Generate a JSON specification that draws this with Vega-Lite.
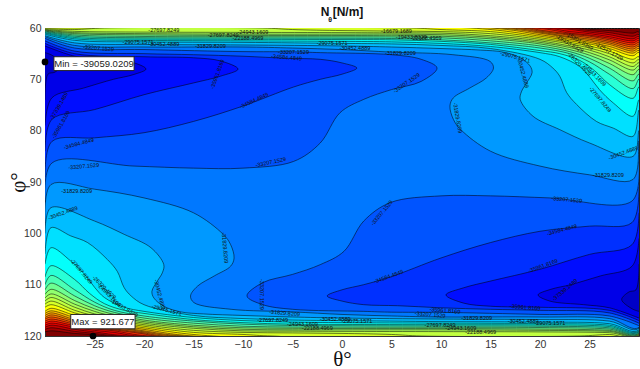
{"$schema":"https://vega.github.io/schema/vega-lite/v6.json","width":594,"height":308,"autosize":{"type":"none"},"padding":{"left":45,"top":28,"right":1,"bottom":33},"background":"white",
"title":{"text":"N     [N/m]","anchor":"middle","fontSize":12,"fontWeight":"bold","font":"Liberation Sans","color":"#111","offset":-3},
"view":{"fill":"#800000","stroke":"#222"},
"config":{"axis":{"grid":true,"gridColor":"#000","gridDash":[1,2],"gridOpacity":1,"gridWidth":0.9,"ticks":false,"domainColor":"#333","labelFont":"Liberation Sans","labelFontSize":10.5,"labelColor":"#333","titleFont":"Liberation Serif","titleFontWeight":"normal","titleFontSize":21,"titleColor":"#111","titleBaseline":"alphabetic","zindex":1}},
"datasets":{"poly":[
{"g":"27","t":-30,"p":60},{"g":"27","t":23.5,"p":60},{"g":"27","t":25,"p":60.25},{"g":"27","t":27,"p":60.5},{"g":"27","t":29.4,"p":61},{"g":"27","t":30,"p":60.8},{"g":"27","t":30,"p":120},{"g":"27","t":-23.5,"p":120},{"g":"27","t":-25,"p":119.75},{"g":"27","t":-27,"p":119.5},{"g":"27","t":-29.4,"p":119},{"g":"27","t":-30,"p":119.2},
{"g":"26","t":-30,"p":60},{"g":"26","t":22.5,"p":60},{"g":"26","t":25,"p":60.5},{"g":"26","t":27,"p":60.9},{"g":"26","t":29.4,"p":61.6},{"g":"26","t":30,"p":61.3},{"g":"26","t":30,"p":120},{"g":"26","t":-22.5,"p":120},{"g":"26","t":-25,"p":119.5},{"g":"26","t":-27,"p":119.1},{"g":"26","t":-29.4,"p":118.4},{"g":"26","t":-30,"p":118.7},
{"g":"25","t":-30,"p":60},{"g":"25","t":21.5,"p":60},{"g":"25","t":25,"p":60.8},{"g":"25","t":27,"p":61.3},{"g":"25","t":29.4,"p":62.1},{"g":"25","t":30,"p":61.7},{"g":"25","t":30,"p":120},{"g":"25","t":-21.5,"p":120},{"g":"25","t":-25,"p":119.2},{"g":"25","t":-27,"p":118.7},{"g":"25","t":-29.4,"p":117.9},{"g":"25","t":-30,"p":118.3},
{"g":"24","t":-30,"p":60},{"g":"24","t":20.5,"p":60},{"g":"24","t":23,"p":60.7},{"g":"24","t":25,"p":61.1},{"g":"24","t":27,"p":61.7},{"g":"24","t":29.4,"p":62.5},{"g":"24","t":30,"p":62.1},{"g":"24","t":30,"p":120},{"g":"24","t":-20.5,"p":120},{"g":"24","t":-23,"p":119.3},{"g":"24","t":-25,"p":118.9},{"g":"24","t":-27,"p":118.3},{"g":"24","t":-29.4,"p":117.5},{"g":"24","t":-30,"p":117.9},
{"g":"23","t":-30,"p":60},{"g":"23","t":19.5,"p":60},{"g":"23","t":23,"p":61},{"g":"23","t":25,"p":61.4},{"g":"23","t":27,"p":62},{"g":"23","t":29.4,"p":62.9},{"g":"23","t":30,"p":62.5},{"g":"23","t":30,"p":120},{"g":"23","t":-19.5,"p":120},{"g":"23","t":-23,"p":119},{"g":"23","t":-25,"p":118.6},{"g":"23","t":-27,"p":118},{"g":"23","t":-29.4,"p":117.1},{"g":"23","t":-30,"p":117.5},
{"g":"22","t":-30,"p":60},{"g":"22","t":18.7,"p":60},{"g":"22","t":20,"p":60.4},{"g":"22","t":23,"p":61.2},{"g":"22","t":25,"p":61.6},{"g":"22","t":27,"p":62.3},{"g":"22","t":29.4,"p":63.3},{"g":"22","t":30,"p":62.9},{"g":"22","t":30,"p":120},{"g":"22","t":-18.7,"p":120},{"g":"22","t":-20,"p":119.6},{"g":"22","t":-23,"p":118.8},{"g":"22","t":-25,"p":118.4},{"g":"22","t":-27,"p":117.7},{"g":"22","t":-29.4,"p":116.7},{"g":"22","t":-30,"p":117.1},
{"g":"21","t":-30,"p":60},{"g":"21","t":18,"p":60},{"g":"21","t":20,"p":60.6},{"g":"21","t":23,"p":61.4},{"g":"21","t":25,"p":61.9},{"g":"21","t":27,"p":62.6},{"g":"21","t":29.4,"p":63.7},{"g":"21","t":30,"p":63.3},{"g":"21","t":30,"p":120},{"g":"21","t":-18,"p":120},{"g":"21","t":-20,"p":119.4},{"g":"21","t":-23,"p":118.6},{"g":"21","t":-25,"p":118.1},{"g":"21","t":-27,"p":117.4},{"g":"21","t":-29.4,"p":116.3},{"g":"21","t":-30,"p":116.7},
{"g":"20","t":-30,"p":60},{"g":"20","t":17,"p":60},{"g":"20","t":20,"p":60.8},{"g":"20","t":23,"p":61.7},{"g":"20","t":25,"p":62.2},{"g":"20","t":27,"p":62.9},{"g":"20","t":29.4,"p":64.1},{"g":"20","t":30,"p":63.6},{"g":"20","t":30,"p":120},{"g":"20","t":-17,"p":120},{"g":"20","t":-20,"p":119.2},{"g":"20","t":-23,"p":118.3},{"g":"20","t":-25,"p":117.8},{"g":"20","t":-27,"p":117.1},{"g":"20","t":-29.4,"p":115.9},{"g":"20","t":-30,"p":116.4},
{"g":"19","t":-30,"p":60},{"g":"19","t":16,"p":60},{"g":"19","t":20,"p":61},{"g":"19","t":23,"p":61.9},{"g":"19","t":25,"p":62.5},{"g":"19","t":27,"p":63.2},{"g":"19","t":29.4,"p":64.5},{"g":"19","t":30,"p":64},{"g":"19","t":30,"p":120},{"g":"19","t":-16,"p":120},{"g":"19","t":-20,"p":119},{"g":"19","t":-23,"p":118.1},{"g":"19","t":-25,"p":117.5},{"g":"19","t":-27,"p":116.8},{"g":"19","t":-29.4,"p":115.5},{"g":"19","t":-30,"p":116},
{"g":"18","t":-30,"p":60},{"g":"18","t":15,"p":60},{"g":"18","t":20,"p":61.3},{"g":"18","t":23,"p":62.2},{"g":"18","t":25,"p":62.8},{"g":"18","t":27,"p":63.6},{"g":"18","t":29.4,"p":64.9},{"g":"18","t":30,"p":64.4},{"g":"18","t":30,"p":120},{"g":"18","t":-15,"p":120},{"g":"18","t":-20,"p":118.7},{"g":"18","t":-23,"p":117.8},{"g":"18","t":-25,"p":117.2},{"g":"18","t":-27,"p":116.4},{"g":"18","t":-29.4,"p":115.1},{"g":"18","t":-30,"p":115.6},
{"g":"17","t":-30,"p":60},{"g":"17","t":13,"p":60},{"g":"17","t":20,"p":61.6},{"g":"17","t":23,"p":62.5},{"g":"17","t":25,"p":63.1},{"g":"17","t":27,"p":64},{"g":"17","t":29.4,"p":65.4},{"g":"17","t":30,"p":64.8},{"g":"17","t":30,"p":120},{"g":"17","t":-13,"p":120},{"g":"17","t":-20,"p":118.4},{"g":"17","t":-23,"p":117.5},{"g":"17","t":-25,"p":116.9},{"g":"17","t":-27,"p":116},{"g":"17","t":-29.4,"p":114.6},{"g":"17","t":-30,"p":115.2},
{"g":"16","t":-30,"p":60},{"g":"16","t":7,"p":60},{"g":"16","t":10,"p":60.3},{"g":"16","t":15,"p":60.7},{"g":"16","t":20,"p":61.9},{"g":"16","t":23,"p":62.8},{"g":"16","t":25,"p":63.5},{"g":"16","t":27,"p":64.5},{"g":"16","t":29.4,"p":66.1},{"g":"16","t":30,"p":65.6},{"g":"16","t":30,"p":120},{"g":"16","t":-7,"p":120},{"g":"16","t":-10,"p":119.7},{"g":"16","t":-15,"p":119.3},{"g":"16","t":-20,"p":118.1},{"g":"16","t":-23,"p":117.2},{"g":"16","t":-25,"p":116.5},{"g":"16","t":-27,"p":115.5},{"g":"16","t":-29.4,"p":113.9},{"g":"16","t":-30,"p":114.4},
{"g":"15","t":-30,"p":60.15},{"g":"15","t":-27,"p":60.3},{"g":"15","t":-24,"p":60},{"g":"15","t":-8,"p":60},{"g":"15","t":-5,"p":60.3},{"g":"15","t":0,"p":60.5},{"g":"15","t":5,"p":60.6},{"g":"15","t":10,"p":60.7},{"g":"15","t":15,"p":61.1},{"g":"15","t":20,"p":62.2},{"g":"15","t":23,"p":63.1},{"g":"15","t":25,"p":63.9},{"g":"15","t":27,"p":65},{"g":"15","t":29.4,"p":66.8},{"g":"15","t":30,"p":66.2},{"g":"15","t":30,"p":119.85},{"g":"15","t":27,"p":119.7},{"g":"15","t":24,"p":120},{"g":"15","t":8,"p":120},{"g":"15","t":5,"p":119.7},{"g":"15","t":0,"p":119.5},{"g":"15","t":-5,"p":119.4},{"g":"15","t":-10,"p":119.3},{"g":"15","t":-15,"p":118.9},{"g":"15","t":-20,"p":117.8},{"g":"15","t":-23,"p":116.9},{"g":"15","t":-25,"p":116.1},{"g":"15","t":-27,"p":115},{"g":"15","t":-29.4,"p":113.2},{"g":"15","t":-30,"p":113.8},
{"g":"14","t":-30,"p":60.3},{"g":"14","t":-27,"p":60.65},{"g":"14","t":-20,"p":60.8},{"g":"14","t":-10,"p":60.85},{"g":"14","t":0,"p":60.9},{"g":"14","t":5,"p":60.95},{"g":"14","t":10,"p":61},{"g":"14","t":15,"p":61.5},{"g":"14","t":20,"p":62.5},{"g":"14","t":23,"p":63.5},{"g":"14","t":25,"p":64.3},{"g":"14","t":27,"p":65.6},{"g":"14","t":29.4,"p":67.5},{"g":"14","t":30,"p":66.8},{"g":"14","t":30,"p":119.7},{"g":"14","t":27,"p":119.35},{"g":"14","t":20,"p":119.2},{"g":"14","t":10,"p":119.15},{"g":"14","t":0,"p":119.1},{"g":"14","t":-5,"p":119.05},{"g":"14","t":-10,"p":119},{"g":"14","t":-15,"p":118.5},{"g":"14","t":-20,"p":117.5},{"g":"14","t":-23,"p":116.5},{"g":"14","t":-25,"p":115.7},{"g":"14","t":-27,"p":114.4},{"g":"14","t":-29.4,"p":112.5},{"g":"14","t":-30,"p":113.2},
{"g":"13","t":-30,"p":60.4},{"g":"13","t":-27,"p":60.9},{"g":"13","t":-20,"p":61.1},{"g":"13","t":-10,"p":61.2},{"g":"13","t":0,"p":61.2},{"g":"13","t":5,"p":61.2},{"g":"13","t":10,"p":61.3},{"g":"13","t":15,"p":61.8},{"g":"13","t":20,"p":62.8},{"g":"13","t":23,"p":63.8},{"g":"13","t":25,"p":64.8},{"g":"13","t":27,"p":66.2},{"g":"13","t":29.4,"p":68.2},{"g":"13","t":30,"p":67.4},{"g":"13","t":30,"p":119.6},{"g":"13","t":27,"p":119.1},{"g":"13","t":20,"p":118.9},{"g":"13","t":10,"p":118.8},{"g":"13","t":0,"p":118.8},{"g":"13","t":-5,"p":118.8},{"g":"13","t":-10,"p":118.7},{"g":"13","t":-15,"p":118.2},{"g":"13","t":-20,"p":117.2},{"g":"13","t":-23,"p":116.2},{"g":"13","t":-25,"p":115.2},{"g":"13","t":-27,"p":113.8},{"g":"13","t":-29.4,"p":111.8},{"g":"13","t":-30,"p":112.6},
{"g":"12","t":-30,"p":60.5},{"g":"12","t":-27,"p":61.1},{"g":"12","t":-20,"p":61.35},{"g":"12","t":-10,"p":61.45},{"g":"12","t":0,"p":61.46},{"g":"12","t":5,"p":61.5},{"g":"12","t":10,"p":61.6},{"g":"12","t":15,"p":62.1},{"g":"12","t":20,"p":63.1},{"g":"12","t":23,"p":64.2},{"g":"12","t":25,"p":65.3},{"g":"12","t":27,"p":66.9},{"g":"12","t":29.4,"p":69.1},{"g":"12","t":30,"p":68.1},{"g":"12","t":30,"p":119.5},{"g":"12","t":27,"p":118.9},{"g":"12","t":20,"p":118.65},{"g":"12","t":10,"p":118.55},{"g":"12","t":0,"p":118.54},{"g":"12","t":-5,"p":118.5},{"g":"12","t":-10,"p":118.4},{"g":"12","t":-15,"p":117.9},{"g":"12","t":-20,"p":116.9},{"g":"12","t":-23,"p":115.8},{"g":"12","t":-25,"p":114.7},{"g":"12","t":-27,"p":113.1},{"g":"12","t":-29.4,"p":110.9},{"g":"12","t":-30,"p":111.9},
{"g":"11","t":-30,"p":60.6},{"g":"11","t":-27,"p":61.35},{"g":"11","t":-20,"p":61.65},{"g":"11","t":-10,"p":61.7},{"g":"11","t":0,"p":61.72},{"g":"11","t":5,"p":61.75},{"g":"11","t":10,"p":61.9},{"g":"11","t":15,"p":62.5},{"g":"11","t":20,"p":63.5},{"g":"11","t":23,"p":64.6},{"g":"11","t":25,"p":65.9},{"g":"11","t":27,"p":67.8},{"g":"11","t":29.4,"p":70.3},{"g":"11","t":30,"p":69},{"g":"11","t":30,"p":119.4},{"g":"11","t":27,"p":118.65},{"g":"11","t":20,"p":118.35},{"g":"11","t":10,"p":118.3},{"g":"11","t":0,"p":118.28},{"g":"11","t":-5,"p":118.25},{"g":"11","t":-10,"p":118.1},{"g":"11","t":-15,"p":117.5},{"g":"11","t":-20,"p":116.5},{"g":"11","t":-23,"p":115.4},{"g":"11","t":-25,"p":114.1},{"g":"11","t":-27,"p":112.2},{"g":"11","t":-29.4,"p":109.7},{"g":"11","t":-30,"p":111},
{"g":"10","t":-30,"p":60.7},{"g":"10","t":-27,"p":61.6},{"g":"10","t":-20,"p":61.9},{"g":"10","t":-10,"p":61.95},{"g":"10","t":0,"p":62},{"g":"10","t":5,"p":62.05},{"g":"10","t":10,"p":62.3},{"g":"10","t":15,"p":62.9},{"g":"10","t":20,"p":63.9},{"g":"10","t":23,"p":65},{"g":"10","t":25,"p":66.6},{"g":"10","t":27,"p":69},{"g":"10","t":29.4,"p":71.8},{"g":"10","t":30,"p":70},{"g":"10","t":30,"p":119.3},{"g":"10","t":27,"p":118.4},{"g":"10","t":20,"p":118.1},{"g":"10","t":10,"p":118.05},{"g":"10","t":0,"p":118},{"g":"10","t":-5,"p":117.95},{"g":"10","t":-10,"p":117.7},{"g":"10","t":-15,"p":117.1},{"g":"10","t":-20,"p":116.1},{"g":"10","t":-23,"p":115},{"g":"10","t":-25,"p":113.4},{"g":"10","t":-27,"p":111},{"g":"10","t":-29.4,"p":108.2},{"g":"10","t":-30,"p":110},
{"g":"9","t":-30,"p":60.85},{"g":"9","t":-27,"p":61.85},{"g":"9","t":-20,"p":62.15},{"g":"9","t":-10,"p":62.2},{"g":"9","t":0,"p":62.25},{"g":"9","t":5,"p":62.3},{"g":"9","t":10,"p":62.6},{"g":"9","t":15,"p":63.2},{"g":"9","t":20,"p":64.4},{"g":"9","t":22,"p":65},{"g":"9","t":24,"p":66.3},{"g":"9","t":25.5,"p":68.3},{"g":"9","t":27,"p":71},{"g":"9","t":29.4,"p":73.7},{"g":"9","t":30,"p":71.5},{"g":"9","t":30,"p":119.15},{"g":"9","t":27,"p":118.15},{"g":"9","t":20,"p":117.85},{"g":"9","t":10,"p":117.8},{"g":"9","t":0,"p":117.75},{"g":"9","t":-5,"p":117.7},{"g":"9","t":-10,"p":117.4},{"g":"9","t":-15,"p":116.8},{"g":"9","t":-20,"p":115.6},{"g":"9","t":-22,"p":115},{"g":"9","t":-24,"p":113.7},{"g":"9","t":-25.5,"p":111.7},{"g":"9","t":-27,"p":109},{"g":"9","t":-29.4,"p":106.3},{"g":"9","t":-30,"p":108.5},
{"g":"8","t":-30,"p":61},{"g":"8","t":-27,"p":62.1},{"g":"8","t":-20,"p":62.4},{"g":"8","t":-10,"p":62.5},{"g":"8","t":0,"p":62.6},{"g":"8","t":5,"p":62.7},{"g":"8","t":10,"p":63},{"g":"8","t":15,"p":63.6},{"g":"8","t":20,"p":64.8},{"g":"8","t":22,"p":65.6},{"g":"8","t":24,"p":67.5},{"g":"8","t":25,"p":69.5},{"g":"8","t":26,"p":72},{"g":"8","t":27.4,"p":74.6},{"g":"8","t":29.4,"p":77.2},{"g":"8","t":30,"p":74},{"g":"8","t":30,"p":119},{"g":"8","t":27,"p":117.9},{"g":"8","t":20,"p":117.6},{"g":"8","t":10,"p":117.5},{"g":"8","t":0,"p":117.4},{"g":"8","t":-5,"p":117.3},{"g":"8","t":-10,"p":117},{"g":"8","t":-15,"p":116.4},{"g":"8","t":-20,"p":115.2},{"g":"8","t":-22,"p":114.4},{"g":"8","t":-24,"p":112.5},{"g":"8","t":-25,"p":110.5},{"g":"8","t":-26,"p":108},{"g":"8","t":-27.4,"p":105.4},{"g":"8","t":-29.4,"p":102.8},{"g":"8","t":-30,"p":106},
{"g":"7","t":-30,"p":61.2},{"g":"7","t":-27,"p":62.4},{"g":"7","t":-20,"p":62.7},{"g":"7","t":-10,"p":62.8},{"g":"7","t":0,"p":63},{"g":"7","t":5,"p":63.1},{"g":"7","t":10,"p":63.4},{"g":"7","t":15,"p":64},{"g":"7","t":20,"p":66.1},{"g":"7","t":21.3,"p":67.8},{"g":"7","t":22,"p":69.4},{"g":"7","t":22.7,"p":72.6},{"g":"7","t":23.7,"p":74.9},{"g":"7","t":25.7,"p":78.2},{"g":"7","t":27.4,"p":79.5},{"g":"7","t":29.4,"p":81.1},{"g":"7","t":30,"p":76},{"g":"7","t":30,"p":118.8},{"g":"7","t":27,"p":117.6},{"g":"7","t":20,"p":117.3},{"g":"7","t":10,"p":117.2},{"g":"7","t":0,"p":117},{"g":"7","t":-5,"p":116.9},{"g":"7","t":-10,"p":116.6},{"g":"7","t":-15,"p":116},{"g":"7","t":-20,"p":113.9},{"g":"7","t":-21.3,"p":112.2},{"g":"7","t":-22,"p":110.6},{"g":"7","t":-22.7,"p":107.4},{"g":"7","t":-23.7,"p":105.1},{"g":"7","t":-25.7,"p":101.8},{"g":"7","t":-27.4,"p":100.5},{"g":"7","t":-29.4,"p":98.9},{"g":"7","t":-30,"p":104},
{"g":"6","t":-30,"p":61.5},{"g":"6","t":-27,"p":62.9},{"g":"6","t":-20,"p":63.2},{"g":"6","t":-10,"p":63.3},{"g":"6","t":0,"p":63.5},{"g":"6","t":5,"p":63.7},{"g":"6","t":10,"p":64},{"g":"6","t":14,"p":64.3},{"g":"6","t":16.3,"p":64.7},{"g":"6","t":18,"p":65.8},{"g":"6","t":19,"p":67.4},{"g":"6","t":19.2,"p":68.7},{"g":"6","t":18.65,"p":70.7},{"g":"6","t":18.15,"p":72.3},{"g":"6","t":18,"p":73.9},{"g":"6","t":19.3,"p":77.2},{"g":"6","t":22,"p":79.8},{"g":"6","t":25,"p":82.4},{"g":"6","t":29.4,"p":85},{"g":"6","t":30,"p":80},{"g":"6","t":30,"p":118.5},{"g":"6","t":27,"p":117.1},{"g":"6","t":20,"p":116.8},{"g":"6","t":10,"p":116.7},{"g":"6","t":0,"p":116.5},{"g":"6","t":-5,"p":116.3},{"g":"6","t":-10,"p":116},{"g":"6","t":-14,"p":115.7},{"g":"6","t":-16.3,"p":115.3},{"g":"6","t":-18,"p":114.2},{"g":"6","t":-19,"p":112.6},{"g":"6","t":-19.2,"p":111.3},{"g":"6","t":-18.65,"p":109.3},{"g":"6","t":-18.15,"p":107.7},{"g":"6","t":-18,"p":106.1},{"g":"6","t":-19.3,"p":102.8},{"g":"6","t":-22,"p":100.2},{"g":"6","t":-25,"p":97.6},{"g":"6","t":-29.4,"p":95},{"g":"6","t":-30,"p":100},
{"g":"5","t":-30,"p":61.7},{"g":"5","t":-27,"p":63.4},{"g":"5","t":-20,"p":63.7},{"g":"5","t":-10,"p":63.7},{"g":"5","t":-5,"p":63.9},{"g":"5","t":0,"p":64.2},{"g":"5","t":5,"p":64.7},{"g":"5","t":11.2,"p":65.2},{"g":"5","t":14.95,"p":66.5},{"g":"5","t":15.3,"p":67.8},{"g":"5","t":14.6,"p":69.7},{"g":"5","t":12.9,"p":71.7},{"g":"5","t":11.25,"p":73.6},{"g":"5","t":10.9,"p":75.2},{"g":"5","t":11.25,"p":77.8},{"g":"5","t":12,"p":79.8},{"g":"5","t":15,"p":84},{"g":"5","t":20,"p":86.9},{"g":"5","t":25,"p":88.6},{"g":"5","t":29.4,"p":89.5},{"g":"5","t":30,"p":82},{"g":"5","t":30,"p":118.3},{"g":"5","t":27,"p":116.6},{"g":"5","t":20,"p":116.3},{"g":"5","t":10,"p":116.3},{"g":"5","t":5,"p":116.1},{"g":"5","t":0,"p":115.8},{"g":"5","t":-5,"p":115.3},{"g":"5","t":-11.2,"p":114.8},{"g":"5","t":-14.95,"p":113.5},{"g":"5","t":-15.3,"p":112.2},{"g":"5","t":-14.6,"p":110.3},{"g":"5","t":-12.9,"p":108.3},{"g":"5","t":-11.25,"p":106.4},{"g":"5","t":-10.9,"p":104.8},{"g":"5","t":-11.25,"p":102.2},{"g":"5","t":-12,"p":100.2},{"g":"5","t":-15,"p":96},{"g":"5","t":-20,"p":93.1},{"g":"5","t":-25,"p":91.4},{"g":"5","t":-29.4,"p":90.5},{"g":"5","t":-30,"p":98},
{"g":"4a","t":-30,"p":62},{"g":"4a","t":-27,"p":63.9},{"g":"4a","t":-20,"p":64.2},{"g":"4a","t":-10,"p":64.6},{"g":"4a","t":-5,"p":64.64},{"g":"4a","t":-2.2,"p":64.8},{"g":"4a","t":5,"p":65.2},{"g":"4a","t":8,"p":66.1},{"g":"4a","t":9.6,"p":67.8},{"g":"4a","t":8,"p":70.4},{"g":"4a","t":5,"p":72},{"g":"4a","t":2.2,"p":73.9},{"g":"4a","t":-0.2,"p":76.5},{"g":"4a","t":-2.2,"p":82.4},{"g":"4a","t":-4.9,"p":86},{"g":"4a","t":-10,"p":87.3},{"g":"4a","t":-15,"p":87.3},{"g":"4a","t":-21,"p":86.9},{"g":"4a","t":-29.3,"p":86.3},{"g":"4a","t":-30,"p":94},
{"g":"4b","t":30,"p":118},{"g":"4b","t":27,"p":116.1},{"g":"4b","t":20,"p":115.8},{"g":"4b","t":10,"p":115.4},{"g":"4b","t":5,"p":115.36},{"g":"4b","t":2.2,"p":115.2},{"g":"4b","t":-5,"p":114.8},{"g":"4b","t":-8,"p":113.9},{"g":"4b","t":-9.6,"p":112.2},{"g":"4b","t":-8,"p":109.6},{"g":"4b","t":-5,"p":108},{"g":"4b","t":-2.2,"p":106.1},{"g":"4b","t":0.2,"p":103.5},{"g":"4b","t":2.2,"p":97.6},{"g":"4b","t":4.9,"p":94},{"g":"4b","t":10,"p":92.7},{"g":"4b","t":15,"p":92.7},{"g":"4b","t":21,"p":93.1},{"g":"4b","t":29.3,"p":93.7},{"g":"4b","t":30,"p":86},
{"g":"3a","t":-30,"p":62.5},{"g":"3a","t":-27,"p":64.5},{"g":"3a","t":-20,"p":65},{"g":"3a","t":-15,"p":65.2},{"g":"3a","t":-10,"p":65.5},{"g":"3a","t":-5.6,"p":65.9},{"g":"3a","t":-2.2,"p":66.1},{"g":"3a","t":0,"p":66.8},{"g":"3a","t":1.5,"p":67.8},{"g":"3a","t":0,"p":69},{"g":"3a","t":-2.2,"p":70},{"g":"3a","t":-4.9,"p":71.5},{"g":"3a","t":-10,"p":75.2},{"g":"3a","t":-15,"p":78.2},{"g":"3a","t":-20,"p":80.4},{"g":"3a","t":-25,"p":81.4},{"g":"3a","t":-29.3,"p":82.1},{"g":"3a","t":-30,"p":89},
{"g":"3b","t":30,"p":117.5},{"g":"3b","t":27,"p":115.5},{"g":"3b","t":20,"p":115},{"g":"3b","t":15,"p":114.8},{"g":"3b","t":10,"p":114.5},{"g":"3b","t":5.6,"p":114.1},{"g":"3b","t":2.2,"p":113.9},{"g":"3b","t":0,"p":113.2},{"g":"3b","t":-1.5,"p":112.2},{"g":"3b","t":0,"p":111},{"g":"3b","t":2.2,"p":110},{"g":"3b","t":4.9,"p":108.5},{"g":"3b","t":10,"p":104.8},{"g":"3b","t":15,"p":101.8},{"g":"3b","t":20,"p":99.6},{"g":"3b","t":25,"p":98.6},{"g":"3b","t":29.3,"p":97.9},{"g":"3b","t":30,"p":91},
{"g":"2a","t":-30,"p":63},{"g":"2a","t":-27,"p":65},{"g":"2a","t":-20,"p":65.6},{"g":"2a","t":-15,"p":65.8},{"g":"2a","t":-12.3,"p":66.4},{"g":"2a","t":-10.5,"p":68},{"g":"2a","t":-12.3,"p":69.4},{"g":"2a","t":-15,"p":70.7},{"g":"2a","t":-20,"p":73},{"g":"2a","t":-25,"p":75.9},{"g":"2a","t":-29.3,"p":77.8},{"g":"2a","t":-30,"p":84},
{"g":"2b","t":30,"p":117},{"g":"2b","t":27,"p":115},{"g":"2b","t":20,"p":114.4},{"g":"2b","t":15,"p":114.2},{"g":"2b","t":12.3,"p":113.6},{"g":"2b","t":10.5,"p":112},{"g":"2b","t":12.3,"p":110.6},{"g":"2b","t":15,"p":109.3},{"g":"2b","t":20,"p":107},{"g":"2b","t":25,"p":104.1},{"g":"2b","t":29.3,"p":102.2},{"g":"2b","t":30,"p":96},
{"g":"1a","t":-30,"p":63.5},{"g":"1a","t":-27,"p":65.5},{"g":"1a","t":-24.4,"p":66.1},{"g":"1a","t":-21,"p":66.8},{"g":"1a","t":-19.8,"p":68},{"g":"1a","t":-21.1,"p":69.1},{"g":"1a","t":-23.1,"p":70},{"g":"1a","t":-26.1,"p":71.7},{"g":"1a","t":-29.3,"p":73.6},{"g":"1a","t":-30,"p":79},
{"g":"1b","t":30,"p":116.5},{"g":"1b","t":27,"p":114.5},{"g":"1b","t":24.4,"p":113.9},{"g":"1b","t":21,"p":113.2},{"g":"1b","t":19.8,"p":112},{"g":"1b","t":21.1,"p":110.9},{"g":"1b","t":23.1,"p":110},{"g":"1b","t":26.1,"p":108.3},{"g":"1b","t":29.3,"p":106.4},{"g":"1b","t":30,"p":101},
{"g":"0a","t":-30,"p":64.8},{"g":"0a","t":-29.3,"p":65.3},{"g":"0a","t":-28.25,"p":67.1},{"g":"0a","t":-29,"p":68.6},{"g":"0a","t":-29.7,"p":69},{"g":"0a","t":-30,"p":74},
{"g":"0b","t":30,"p":115.2},{"g":"0b","t":29.3,"p":114.7},{"g":"0b","t":28.25,"p":112.9},{"g":"0b","t":29,"p":111.4},{"g":"0b","t":29.7,"p":111},{"g":"0b","t":30,"p":106}
],
"labels":[
{"s":"-37339.1489","t":-28.6,"p":75.2,"a":-60},{"s":"-35961.8169","t":-28.4,"p":78.8,"a":-60},{"s":"-34584.4849","t":-26.6,"p":82.5,"a":-15},{"s":"-33207.1529","t":-26.1,"p":86.9,"a":-5},{"s":"-35961.8169","t":-12.6,"p":69,"a":-70},{"s":"-34584.4849","t":-8.9,"p":74.1,"a":-25},{"s":"-33207.1529","t":-7.2,"p":86.1,"a":-12},{"s":"-31829.8209","t":-13.3,"p":63.5,"a":0},{"s":"-33207.1529","t":-4.9,"p":64.6,"a":0},{"s":"-34584.4849","t":-5.6,"p":65.7,"a":5},{"s":"-33207.1529","t":-24.6,"p":63.9,"a":5},{"s":"-29075.1571","t":-20.6,"p":62.7,"a":0},{"s":"-30452.4889","t":-18,"p":63.1,"a":0},{"s":"-27697.8249","t":-18,"p":60.4,"a":0},{"s":"-27697.8249","t":-12,"p":61.3,"a":0},{"s":"-24943.1609","t":-9,"p":60.7,"a":0},{"s":"-22188.4969","t":-9.5,"p":62,"a":0},{"s":"-31829.8209","t":5.9,"p":64.8,"a":0},{"s":"-33207.1529","t":6.5,"p":70.7,"a":-35},{"s":"-31829.8209","t":11.7,"p":77.5,"a":80},{"s":"-29075.1571","t":17.5,"p":65.6,"a":15},{"s":"-30452.4889","t":18.3,"p":68.7,"a":75},{"s":"-31829.8209","t":26.9,"p":88.6,"a":0},{"s":"-30452.4889","t":28.4,"p":84.3,"a":-20},{"s":"-27697.8249","t":26.1,"p":73.9,"a":50},{"s":"-29075.1571","t":-1,"p":63,"a":0},{"s":"-30452.4889","t":1.3,"p":63.9,"a":0},{"s":"-16679.1689","t":5.5,"p":60.6,"a":0},{"s":"-19433.8329","t":7,"p":61.7,"a":0},{"s":"-22188.4969","t":8.5,"p":62,"a":0},{"s":"-19433.8329","t":23,"p":63,"a":30},{"s":"-15301.8369","t":24,"p":62.5,"a":30},{"s":"-24943.1609","t":25.5,"p":69,"a":45},{"s":"-26320.4929","t":24,"p":67,"a":45},{"s":"-12547.1729","t":27,"p":64.5,"a":30},
{"s":"-31829.8209","t":-26.8,"p":91.8,"a":0},{"s":"-30452.4889","t":-28.2,"p":96,"a":-20},{"s":"-27697.8249","t":-26.3,"p":107.4,"a":50},{"s":"-31829.8209","t":-11.8,"p":102.8,"a":85},{"s":"-30452.4889","t":-18.4,"p":111.9,"a":75},{"s":"-29075.1571","t":-17.7,"p":114.9,"a":15},{"s":"-33207.1529","t":-8.1,"p":111.9,"a":90},{"s":"-31829.8209","t":-5.8,"p":115.5,"a":5},{"s":"-27697.8249","t":-7,"p":116.8,"a":0},{"s":"-24943.1609","t":-4,"p":117.6,"a":0},{"s":"-22188.4969","t":-2.5,"p":118.4,"a":0},{"s":"-26320.4929","t":-24,"p":110.5,"a":45},{"s":"-24943.1609","t":-23.5,"p":112,"a":45},{"s":"-19433.8329","t":-22,"p":114.5,"a":30},
{"s":"-33207.1529","t":4,"p":96,"a":-50},{"s":"-33207.1529","t":22.7,"p":93.4,"a":5},{"s":"-34584.4849","t":22.2,"p":99.3,"a":-15},{"s":"-35961.8169","t":20.3,"p":106.3,"a":-20},{"s":"-37339.1489","t":22.5,"p":111,"a":-40},{"s":"-34584.4849","t":4.7,"p":108.4,"a":-20},{"s":"-35961.8169","t":10.4,"p":115,"a":5},{"s":"-33207.1529","t":8.9,"p":115.8,"a":5},{"s":"-30452.4889","t":-0.7,"p":116.6,"a":0},{"s":"-29075.1571","t":1.5,"p":117.1,"a":0},{"s":"-35961.8169","t":18.5,"p":114.4,"a":5},{"s":"-31829.8209","t":13.6,"p":116.5,"a":0},{"s":"-30452.4889","t":18.3,"p":117,"a":0},{"s":"-29075.1571","t":21,"p":117.5,"a":0},{"s":"-27697.8249","t":9.9,"p":117.8,"a":0},{"s":"-24943.1609","t":12,"p":118.4,"a":0},{"s":"-22188.4969","t":14,"p":119.2,"a":0}
],
"notes":[{"s":"Min = -39059.0209","t":-30,"p":66.6,"t1":-29.1,"t2":-21,"p1":65.6,"p2":68.3,"tx":-25.05,"py":67},{"s":"Max = 921.677","t":-25.15,"p":120,"t1":-27.4,"t2":-20.9,"p1":115.8,"p2":118.6,"tx":-24.15,"py":117.2}]},
"encoding":{},
"layer":[
{"data":{"name":"poly"},"mark":{"type":"line","interpolate":"catmull-rom","clip":true,"stroke":"#000","strokeWidth":0.7,"strokeOpacity":0.75},
"encoding":{"x":{"field":"t","type":"quantitative","scale":{"domain":[-30,30],"nice":false,"zero":false},"axis":{"values":[-25,-20,-15,-10,-5,0,5,10,15,20,25],"title":"θ°","labelPadding":3,"titleY":29,"domain":true},"title":"θ°"},
"y":{"field":"p","type":"quantitative","scale":{"domain":[60,120],"reverse":true,"nice":false,"zero":false},"axis":{"values":[60,70,80,90,100,110,120],"title":"φ°","labelPadding":4,"titleX":-21,"titleY":154,"domain":true}},
"fill":{"field":"g","type":"nominal","legend":null,"scale":{"domain":["27","26","25","24","23","22","21","20","19","18","17","16","15","14","13","12","11","10","9","8","7","6","5","4a","4b","3a","3b","2a","2b","1a","1b","0a","0b"],"range":["#a20000","#c60000","#e80000","#ff0d00","#ff3000","#ff5400","#ff7700","#ff9900","#ffbd00","#ffe000","#fbff04","#d7ff28","#c0ff40","#a8ff58","#91ff6e","#6eff91","#4affb5","#28ffd7","#04fffb","#00e0ff","#00bdff","#0099ff","#0078ff","#0054ff","#0054ff","#0030ff","#0030ff","#000dff","#000dff","#0000e8","#0000e8","#0000c6","#0000c6"]}},
"order":{"value":null}}},
{"data":{"name":"labels"},"mark":{"type":"text","fontSize":5.5,"font":"Liberation Sans","color":"#111"},
"encoding":{"x":{"field":"t","type":"quantitative"},"y":{"field":"p","type":"quantitative"},"text":{"field":"s"},"angle":{"field":"a","type":"quantitative","scale":null}}},
{"data":{"name":"notes"},"mark":{"type":"rect","fill":"white","stroke":"#222","strokeWidth":1},
"encoding":{"x":{"field":"t1","type":"quantitative"},"x2":{"field":"t2"},"y":{"field":"p1","type":"quantitative"},"y2":{"field":"p2"}}},
{"data":{"name":"notes"},"mark":{"type":"text","fontSize":9.5,"font":"Liberation Sans","color":"#222"},
"encoding":{"x":{"field":"tx","type":"quantitative"},"y":{"field":"py","type":"quantitative"},"text":{"field":"s"}}},
{"data":{"name":"notes"},"mark":{"type":"point","filled":true,"color":"#000","size":45,"opacity":1,"clip":false},
"encoding":{"x":{"field":"t","type":"quantitative"},"y":{"field":"p","type":"quantitative"}}},
{"data":{"values":[{"s":"θ","t":-1.2,"p":58.4}]},"mark":{"type":"text","fontSize":7,"fontWeight":"bold","font":"Liberation Sans","color":"#111","clip":false},
"encoding":{"x":{"field":"t","type":"quantitative"},"y":{"field":"p","type":"quantitative"},"text":{"field":"s"}}}
]}
